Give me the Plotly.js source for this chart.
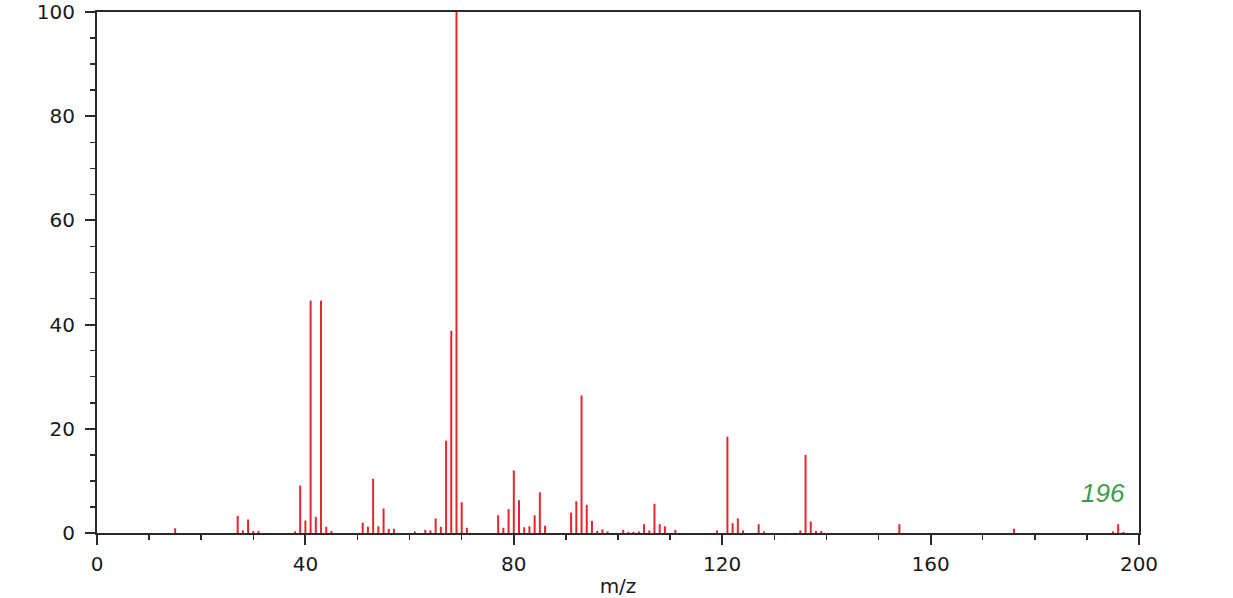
<!DOCTYPE html>
<html>
<head>
<meta charset="utf-8">
<script src="https://cdn.plot.ly/plotly-3.0.1.min.js"></script>
<style>
html,body{margin:0;padding:0;background:#fff;}
#chart{width:1233px;height:598px;}
</style>
</head>
<body>
<div id="chart"></div>
<script>
// m/z values of the peaks
const mz = [15, 27, 28, 29, 30, 31, 38, 39, 40, 41, 42, 43, 44, 45,
  51, 52, 53, 54, 55, 56, 57, 61, 63, 64, 65, 66, 67, 68, 69, 70, 71,
  77, 78, 79, 80, 81, 82, 83, 84, 85, 86,
  91, 92, 93, 94, 95, 96, 97, 98,
  101, 102, 103, 104, 105, 106, 107, 108, 109, 111,
  119, 121, 122, 123, 124, 127, 128,
  135, 136, 137, 138, 139, 154, 176, 195, 196, 197];
// relative intensities (%)
const intensity = [0.9, 3.3, 0.5, 2.6, 0.4, 0.4, 0.3, 9.1, 2.4, 44.6, 3.1, 44.6, 1.2, 0.4,
  2.0, 1.2, 10.4, 1.3, 4.7, 0.8, 0.8, 0.3, 0.6, 0.5, 2.8, 1.2, 17.7, 38.8, 100, 5.9, 1.0,
  3.4, 1.0, 4.6, 12.0, 6.3, 1.1, 1.3, 3.4, 7.8, 1.4,
  3.9, 6.1, 26.4, 5.4, 2.3, 0.4, 0.7, 0.3,
  0.6, 0.2, 0.2, 0.3, 1.7, 0.5, 5.6, 1.7, 1.3, 0.6,
  0.5, 18.5, 1.9, 2.8, 0.5, 1.7, 0.3,
  0.5, 15.0, 2.2, 0.4, 0.4, 1.7, 0.8, 0.3, 1.7, 0.2];
const xTicks = [0, 40, 80, 120, 160, 200];
const yTicks = [0, 20, 40, 60, 80, 100];
const xTitle = "m/z";
const molLabel = "196";

// stick spectrum: each peak is a vertical segment from 0 to its intensity
const stickX = [], stickY = [];
mz.forEach((m, i) => { stickX.push(m, m, null); stickY.push(0, intensity[i], null); });

const trace = {
  type: "scatter",
  mode: "lines",
  x: stickX,
  y: stickY,
  line: {color: "#e3262b", width: 2},
  hoverinfo: "x+y",
  cliponaxis: true
};

const tickFont = {family: "DejaVu Sans, sans-serif", size: 20, color: "#1a1a1a"};

const layout = {
  width: 1233,
  height: 598,
  margin: {l: 97, r: 94, t: 12, b: 65, pad: 0},
  paper_bgcolor: "#ffffff",
  plot_bgcolor: "#ffffff",
  showlegend: false,
  font: tickFont,
  xaxis: {
    range: [0, 200],
    tickmode: "array",
    tickvals: xTicks,
    ticktext: xTicks.map(String),
    ticks: "outside",
    ticklen: 10,
    tickwidth: 2,
    tickcolor: "#2a2a2a",
    minor: {dtick: 10, tick0: 0, ticks: "outside", ticklen: 5, tickwidth: 1.5, tickcolor: "#2a2a2a"},
    showgrid: false,
    zeroline: false,
    showline: true,
    linecolor: "#2a2a2a",
    linewidth: 2,
    mirror: true,
    ticklabelstandoff: 2,
    ticklabeloverflow: "allow",
    tickfont: tickFont,
    title: {text: xTitle, font: tickFont, standoff: 34}
  },
  yaxis: {
    range: [0, 100],
    tickmode: "array",
    tickvals: yTicks,
    ticktext: yTicks.map(String),
    ticks: "outside",
    ticklen: 10,
    tickwidth: 2,
    tickcolor: "#2a2a2a",
    minor: {dtick: 5, tick0: 0, ticks: "outside", ticklen: 5, tickwidth: 1.5, tickcolor: "#2a2a2a"},
    showgrid: false,
    zeroline: false,
    showline: true,
    linecolor: "#2a2a2a",
    linewidth: 2,
    mirror: true,
    ticklabelstandoff: 6,
    ticklabeloverflow: "allow",
    tickfont: tickFont
  },
  annotations: [{
    text: molLabel,
    xref: "x", yref: "y",
    x: 197.6, y: 7.7,
    xanchor: "right", yanchor: "middle",
    showarrow: false,
    font: {family: "Liberation Sans, Arial, sans-serif", size: 26, color: "#3d9c4b", style: "italic"}
  }]
};

Plotly.newPlot("chart", [trace], layout, {displayModeBar: false, staticPlot: true});
</script>
</body>
</html>
